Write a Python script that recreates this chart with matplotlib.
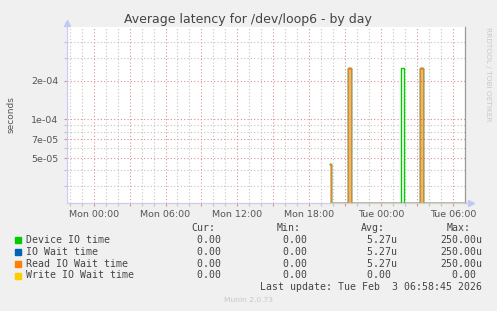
import numpy as np
import pandas as pd
import matplotlib
matplotlib.use("Agg")
import matplotlib.pyplot as plt
import matplotlib.ticker as mticker
import matplotlib.dates as mdates
from matplotlib.lines import Line2D

# ---- data ----
series_names = ["Device IO time", "IO Wait time", "Read IO Wait time", "Write IO Wait time"]
series_colors = ["#00cc00", "#0066b3", "#ff8000", "#ffcc00"]

sample_start = "2026-02-02 19:45"
sample_end = "2026-02-03 06:55"
# (first sample, number of 5-min samples, value) ; all other samples are 0
device_spikes = [("2026-02-02 19:45", 1, 4.5e-5), ("2026-02-02 21:15", 3, 2.5e-4),
                 ("2026-02-03 01:40", 3, 2.5e-4), ("2026-02-03 03:15", 3, 2.5e-4)]
iowait_spikes = [("2026-02-02 19:45", 1, 4.5e-5), ("2026-02-02 21:15", 3, 2.5e-4),
                 ("2026-02-03 03:15", 3, 2.5e-4)]
read_spikes = [("2026-02-02 19:45", 1, 4.5e-5), ("2026-02-02 21:15", 3, 2.5e-4),
               ("2026-02-03 03:15", 3, 2.5e-4)]
write_spikes = []

cur_vals = [0.0, 0.0, 0.0, 0.0]
min_vals = [0.0, 0.0, 0.0, 0.0]
avg_vals = [5.27e-6, 5.27e-6, 5.27e-6, 0.0]
max_vals = [250.0e-6, 250.0e-6, 250.0e-6, 0.0]

x_start = "2026-02-01 21:47"
x_end = "2026-02-03 06:59"
xtick_times = pd.date_range("2026-02-02 00:00", "2026-02-03 06:00", freq="3h")
xtick_labels = ["Mon 00:00", "", "Mon 06:00", "", "Mon 12:00", "", "Mon 18:00", "",
                "Tue 00:00", "", "Tue 06:00"]
ytick_major = [5e-5, 7e-5, 1e-4, 2e-4]
ytick_labels = ["5e-05", "7e-05", "1e-04", "2e-04"]
ytick_minor = [3e-5, 4e-5, 6e-5, 8e-5, 9e-5, 3e-4, 4e-4]
y_min, y_max = 2.23e-5, 5.22e-4

title = "Average latency for /dev/loop6 - by day"
last_update = "Last update: Tue Feb  3 06:58:45 2026"

W, H = 497, 311


def fx(x):
    return x / W


def fy(y):
    return 1 - y / H


def build_series(spikes):
    t = pd.date_range(sample_start, sample_end, freq="5min")
    v = pd.Series(0.0, index=t)
    for start, n, val in spikes:
        idx = pd.date_range(start, periods=n, freq="5min")
        v.loc[idx] = val
    return t, v.values


def si(v):
    if v == 0:
        return f"{v:6.2f} "
    return f"{v * 1e6:6.2f}u"


fig = plt.figure(figsize=(W / 100, H / 100), dpi=100, facecolor="#f0f0f0")
ax = fig.add_axes([fx(67), fy(203), (465 - 67) / W, (203 - 27.3) / H])
ax.set_facecolor("white")
ax.set_yscale("log")

grid_minor = "#c2c2c2"
grid_major = "#de9090"
axis_col = "#c9cdf2"

for spikes, col in zip([device_spikes, iowait_spikes, read_spikes, write_spikes], series_colors):
    t, v = build_series(spikes)
    # zero samples sit on the bottom of the log axis, as rrdtool draws them
    v = np.where(v > 0, v, y_min)
    ax.step(t, v, where="post", color=col, lw=1.0, zorder=3)

ax.set_xlim(pd.Timestamp(x_start), pd.Timestamp(x_end))
ax.set_ylim(y_min, y_max)

ax.xaxis.set_major_locator(mticker.FixedLocator(mdates.date2num(xtick_times)))
ax.xaxis.set_major_formatter(mticker.FixedFormatter(xtick_labels))
ax.xaxis.set_minor_locator(mdates.HourLocator())
ax.yaxis.set_major_locator(mticker.FixedLocator(ytick_major))
ax.yaxis.set_major_formatter(mticker.FixedFormatter(ytick_labels))
ax.yaxis.set_minor_locator(mticker.FixedLocator(ytick_minor))
ax.yaxis.set_minor_formatter(mticker.NullFormatter())

ax.grid(which="minor", color=grid_minor, ls=(0, (1, 2)), lw=0.8)
ax.grid(which="major", color=grid_major, ls=(0, (1, 2)), lw=0.8)
ax.set_axisbelow(True)

ax.tick_params(which="both", length=2, width=0.8, labelsize=6.8, labelcolor="#555555")
ax.tick_params(which="major", color=grid_major)
ax.tick_params(which="minor", color=grid_minor)
ax.tick_params(axis="x", pad=3)
ax.tick_params(axis="y", pad=4)

ax.spines["top"].set_visible(False)
ax.spines["left"].set_color(axis_col)
ax.spines["bottom"].set_color(axis_col)
ax.spines["right"].set_color("#999999")
for s in ax.spines.values():
    s.set_linewidth(0.9)

# axis arrows
ax.plot([0, 0], [1, 1.025], transform=ax.transAxes, color=axis_col, lw=0.9, clip_on=False)
ax.plot([1, 1.015], [0, 0], transform=ax.transAxes, color=axis_col, lw=0.9, clip_on=False)
ax.plot([0], [1.025], marker="^", ms=4, color="#c2c8f4", transform=ax.transAxes, clip_on=False)
ax.plot([1.015], [0], marker=">", ms=4, color="#c2c8f4", transform=ax.transAxes, clip_on=False)

fig.text(fx(248), fy(19.5), title, ha="center", va="center", fontsize=9, color="#444444")
fig.text(fx(11), fy(115), "seconds", rotation=90, ha="center", va="center",
         fontsize=6.5, color="#555555")
fig.text(fx(488), fy(27), "RRDTOOL / TOBI OETIKER", rotation=270, ha="center", va="top",
         fontsize=5.3, color="#c8c8c8")

mono = "DejaVu Sans Mono"
fs = 7.1
txt = "#444444"
head_y = 227.7
for label, x in zip(["Cur:", "Min:", "Avg:", "Max:"], [191.7, 276.7, 361, 446.7]):
    fig.text(fx(x), fy(head_y), label, family=mono, fontsize=fs, color=txt, va="center")

row_y = [239.7, 251.8, 263.7, 275.5]
for i, name in enumerate(series_names):
    y = row_y[i]
    fig.add_artist(Line2D([fx(17.5)], [fy(y)], marker="s", ms=4.3, color=series_colors[i],
                          transform=fig.transFigure))
    fig.text(fx(26.3), fy(y), name, family=mono, fontsize=fs, color=txt, va="center")
    for vals, x in zip([cur_vals, min_vals, avg_vals, max_vals], [184.7, 270.7, 355.3, 440]):
        fig.text(fx(x), fy(y), si(vals[i]), family=mono, fontsize=fs, color=txt, va="center")

fig.text(fx(482.5), fy(287.3), last_update, family=mono, fontsize=fs, color=txt,
         ha="right", va="center")
fig.text(fx(248), fy(300.3), "Munin 2.0.73", ha="center", va="center", fontsize=5.4,
         color="#c8c8c8")

fig.savefig("out.png", dpi=100, facecolor=fig.get_facecolor())
